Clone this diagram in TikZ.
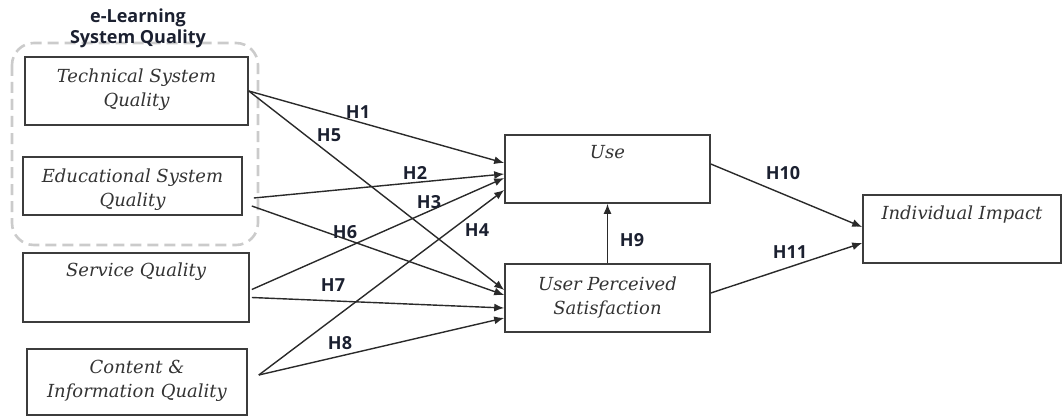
\documentclass[tikz,border=0pt]{standalone}
\usepackage{fontspec}
\usetikzlibrary{arrows.meta}
\newfontfamily\boxfont{DejaVu Serif}
\newfontfamily\labfont{Open Sans}
\definecolor{boxline}{HTML}{3C3C3C}
\definecolor{conn}{HTML}{2A2A2A}
\definecolor{txtgray}{HTML}{333333}
\definecolor{labcol}{HTML}{1B2030}
\definecolor{dashgray}{HTML}{CBCBCB}
\tikzset{
  box/.style={draw=boxline, line width=1.6pt, rectangle, inner sep=0pt},
  boxtxt/.style={font=\boxfont\itshape\fontsize{18}{24}\selectfont, text=txtgray, align=center, anchor=north, inner sep=0pt},
  hyp/.style={font=\labfont\bfseries\fontsize{18}{20}\selectfont, text=labcol, inner sep=0pt},
  conarrow/.style={draw=conn, line width=1.4pt, -{Latex[length=10pt,width=8pt]}},
}
\begin{document}
\begin{tikzpicture}[x=1pt,y=-1pt]
\useasboundingbox (0,0) rectangle (1062,417);
% group frame
\draw[dashgray, line width=2.6pt, dash pattern=on 11pt off 6pt, rounded corners=22pt] (12,43) rectangle (258,245);
\node[font=\labfont\bfseries\fontsize{18}{21}\selectfont, text=labcol, align=center, inner sep=0pt] (title) at (138,28) {e-Learning\\System Quality};
% boxes
\node[box, minimum width=223pt, minimum height=68pt] (tsq) at (136.5,91) {};
\node[boxtxt] (tsqt) at ([yshift=-12pt]tsq.north) {Technical System\\Quality};
\node[box, minimum width=219pt, minimum height=58pt] (esq) at (132.5,186) {};
\node[boxtxt] (esqt) at ([yshift=-12pt]esq.north) {Educational System\\Quality};
\node[box, minimum width=226pt, minimum height=69pt] (sq) at (136,287.5) {};
\node[boxtxt] (sqt) at ([yshift=-10pt]sq.north) {Service Quality};
\node[box, minimum width=220pt, minimum height=66pt] (ciq) at (137,382) {};
\node[boxtxt] (ciqt) at ([yshift=-12pt]ciq.north) {Content \&\\Information Quality};
\node[box, minimum width=205pt, minimum height=68pt] (use) at (607.5,169) {};
\node[boxtxt] (uset) at ([yshift=-11pt]use.north) {Use};
\node[box, minimum width=205pt, minimum height=68pt] (ups) at (607.5,298) {};
\node[boxtxt] (upst) at ([yshift=-13pt]ups.north) {User Perceived\\Satisfaction};
\node[box, minimum width=198pt, minimum height=68pt] (ii) at (962,229) {};
\node[boxtxt] (iit) at ([yshift=-11pt]ii.north) {Individual Impact};
% connectors
\draw[conarrow] (tsq.east) -- ([yshift=6pt]use.west);
\draw[conarrow] (tsq.east) -- ([yshift=8pt]ups.west);
\draw[conarrow] ([xshift=11pt,yshift=-12pt]esq.east) -- ([yshift=-5pt]use.west);
\draw[conarrow] ([xshift=9pt,yshift=-20pt]esq.east) -- ([yshift=3pt]ups.west);
\draw[conarrow] ([xshift=2pt,yshift=-2pt]sq.east) -- ([yshift=-9pt]use.west);
\draw[conarrow] ([xshift=2pt,yshift=-10pt]sq.east) -- ([yshift=-10pt]ups.west);
\draw[conarrow] ([xshift=11pt,yshift=7pt]ciq.east) -- ([yshift=-21pt]use.west);
\draw[conarrow] ([xshift=11pt,yshift=7pt]ciq.east) -- ([yshift=-20pt]ups.west);
\draw[conarrow] (ups.north) -- (use.south);
\draw[conarrow] ([yshift=5pt]use.east) -- ([yshift=2pt]ii.west);
\draw[conarrow] ([yshift=5pt]ups.east) -- ([yshift=-14pt]ii.west);
% labels
\node[hyp] (h1) at (358,112) {H1};
\node[hyp] (h5) at (329,135) {H5};
\node[hyp] (h2) at (415,173) {H2};
\node[hyp] (h3) at (429,202) {H3};
\node[hyp] (h6) at (345,232) {H6};
\node[hyp] (h4) at (477,230) {H4};
\node[hyp] (h7) at (333,285) {H7};
\node[hyp] (h8) at (340,343) {H8};
\node[hyp] (h9) at (632,240) {H9};
\node[hyp] (h10) at (783,173) {H10};
\node[hyp] (h11) at (790,252) {H11};
\end{tikzpicture}
\end{document}
